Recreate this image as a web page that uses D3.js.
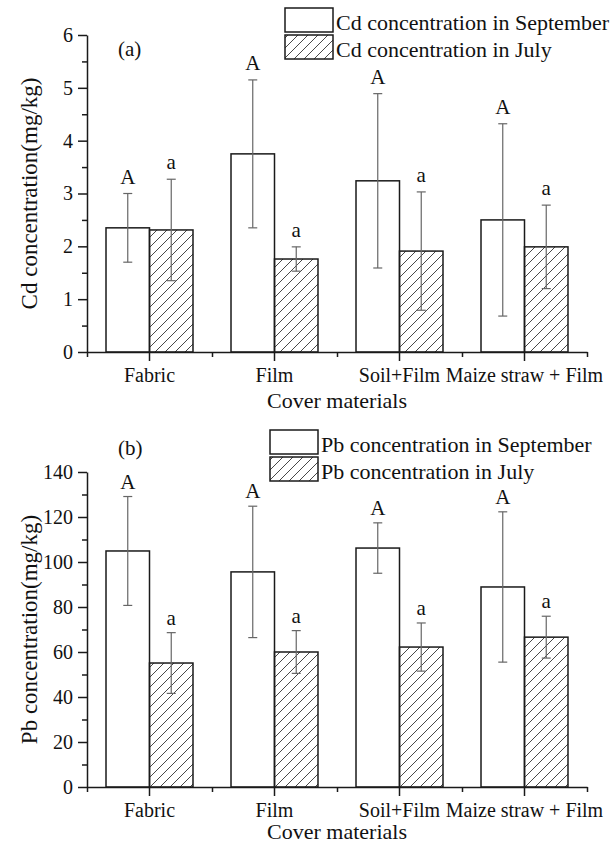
<!DOCTYPE html>
<html>
<head>
<meta charset="utf-8">
<script src="https://cdn.jsdelivr.net/npm/d3@7"></script>
<style>
  body { margin: 0; background: #fff; }
  svg text { font-family: "Liberation Serif", "Times New Roman", serif; fill: #111; }
</style>
</head>
<body>
<div id="chart"></div>
<script>
// data
const categories = ['Fabric', 'Film', 'Soil+Film', 'Maize straw + Film'];
const seriesNames = ['September', 'July'];

const cdSept = [2.35, 3.75, 3.24, 2.50];
const cdSeptErr = [0.65, 1.40, 1.65, 1.82];
const cdJuly = [2.31, 1.76, 1.91, 1.99];
const cdJulyErr = [0.96, 0.23, 1.12, 0.79];

const pbSept = [104.9, 95.6, 106.2, 88.9];
const pbSeptErr = [24.2, 29.2, 11.2, 33.4];
const pbJuly = [55.1, 60.0, 62.2, 66.6];
const pbJulyErr = [13.5, 9.5, 10.7, 9.3];

const septLetters = ['A', 'A', 'A', 'A'];
const julyLetters = ['a', 'a', 'a', 'a'];

const cdTicks = [0, 1, 2, 3, 4, 5, 6];
const cdMinor = [0.5, 1.5, 2.5, 3.5, 4.5, 5.5];
const pbTicks = [0, 20, 40, 60, 80, 100, 120, 140];
const pbMinor = [10, 30, 50, 70, 90, 110, 130];

const W = 616, H = 845;
const svg = d3.select('#chart').append('svg')
  .attr('width', W).attr('height', H);

// hatch pattern for July bars
svg.append('defs').append('pattern')
  .attr('id', 'hatch')
  .attr('patternUnits', 'userSpaceOnUse')
  .attr('width', 10).attr('height', 10)
  .append('path')
  .attr('d', 'M-1,1 l2,-2 M0,10 l10,-10 M9,11 l2,-2')
  .attr('stroke', '#333')
  .attr('stroke-width', 0.9);

const x0 = d3.scaleBand().domain(categories).range([87, 587]);
const x1 = d3.scaleBand().domain(seriesNames)
  .range([0, x0.bandwidth()]).paddingOuter(0.437);
const xMinor = d3.scaleLinear().domain([0.5, 4.5]).range([87, 587]);

function drawPanel(p) {
  const y = d3.scaleLinear().domain(p.domain).range([p.bottom, p.top]);
  const g = svg.append('g');

  const rows = categories.map((c, i) => ({
    cat: c,
    vals: [
      { s: 'September', v: p.sept[i], e: p.septErr[i], l: septLetters[i] },
      { s: 'July', v: p.july[i], e: p.julyErr[i], l: julyLetters[i] },
    ],
  }));

  const grp = g.selectAll('g.grp').data(rows).join('g')
    .attr('transform', (d) => `translate(${x0(d.cat)},0)`);

  grp.selectAll('rect').data((d) => d.vals).join('rect')
    .attr('x', (d) => x1(d.s))
    .attr('width', x1.bandwidth())
    .attr('y', (d) => y(d.v))
    .attr('height', (d) => y(0) - y(d.v))
    .attr('fill', (d) => (d.s === 'July' ? 'url(#hatch)' : '#fff'))
    .attr('stroke', '#1a1a1a')
    .attr('stroke-width', 1.5);

  // error bars
  const eb = grp.selectAll('g.eb').data((d) => d.vals).join('g')
    .attr('class', 'eb')
    .attr('transform', (d) => `translate(${x1(d.s) + x1.bandwidth() / 2},0)`);
  eb.append('line')
    .attr('y1', (d) => y(d.v + d.e)).attr('y2', (d) => y(d.v - d.e))
    .attr('stroke', '#666').attr('stroke-width', 1.2);
  eb.append('line')
    .attr('x1', -4.5).attr('x2', 4.5)
    .attr('y1', (d) => y(d.v + d.e)).attr('y2', (d) => y(d.v + d.e))
    .attr('stroke', '#666').attr('stroke-width', 1.2);
  eb.append('line')
    .attr('x1', -4.5).attr('x2', 4.5)
    .attr('y1', (d) => y(d.v - d.e)).attr('y2', (d) => y(d.v - d.e))
    .attr('stroke', '#666').attr('stroke-width', 1.2);
  eb.append('text')
    .attr('y', (d) => y(d.v + d.e) - p.letterGap)
    .attr('text-anchor', 'middle')
    .attr('font-size', 21)
    .text((d) => d.l);

  // y axis
  const yAx = g.append('g').attr('transform', 'translate(87,0)')
    .call(d3.axisLeft(y).tickValues(p.ticks).tickFormat(d3.format('d'))
      .tickSize(9).tickSizeOuter(0).tickPadding(5));
  g.append('g').attr('transform', 'translate(87,0)')
    .call(d3.axisLeft(y).tickValues(p.minor).tickSize(5).tickSizeOuter(0).tickFormat(''))
    .select('.domain').remove();
  yAx.selectAll('text').attr('font-size', 20);

  // x axis
  const xAx = g.append('g').attr('transform', `translate(0,${p.bottom})`)
    .call(d3.axisBottom(x0).tickSize(9).tickSizeOuter(0).tickPadding(7));
  xAx.selectAll('text').attr('font-size', 20);
  g.append('g').attr('transform', `translate(0,${p.bottom})`)
    .call(d3.axisBottom(xMinor).tickValues([0.5, 1.5, 2.5, 3.5, 4.5]).tickSize(5).tickFormat(''))
    .select('.domain').remove();

  g.selectAll('.domain, .tick line').attr('stroke', '#1a1a1a').attr('stroke-width', 1.5);

  // titles
  g.append('text')
    .attr('x', 337).attr('y', p.bottom + p.titleGap)
    .attr('text-anchor', 'middle').attr('font-size', 22)
    .text('Cover materials');
  g.append('text')
    .attr('transform', `translate(37,${(p.top + p.bottom) / 2}) rotate(-90)`)
    .attr('text-anchor', 'middle').attr('font-size', 23)
    .text(p.yTitle);
  g.append('text')
    .attr('x', 118).attr('y', p.panelY)
    .attr('font-size', 21)
    .text(p.panel);

  // legend
  const lg = g.append('g').attr('transform', `translate(${p.legX},${p.legY})`);
  const items = [
    { fill: '#fff', label: p.legSept },
    { fill: 'url(#hatch)', label: p.legJuly },
  ];
  items.forEach((it, i) => {
    lg.append('rect')
      .attr('x', 0).attr('y', i * 27)
      .attr('width', 48).attr('height', 24)
      .attr('fill', it.fill)
      .attr('stroke', '#1a1a1a').attr('stroke-width', 1.5);
    lg.append('text')
      .attr('x', 51).attr('y', i * 27 + 22)
      .attr('font-size', 22)
      .text(it.label);
  });
}

drawPanel({
  domain: [0, 6], top: 35, bottom: 352,
  sept: cdSept, septErr: cdSeptErr, july: cdJuly, julyErr: cdJulyErr,
  ticks: cdTicks, minor: cdMinor,
  yTitle: 'Cd concentration(mg/kg)', panel: '(a)', panelY: 56,
  legX: 285, legY: 8,
  legSept: 'Cd concentration in September', legJuly: 'Cd concentration in July',
  letterGap: 10, titleGap: 56,
});

drawPanel({
  domain: [0, 140], top: 472, bottom: 787,
  sept: pbSept, septErr: pbSeptErr, july: pbJuly, julyErr: pbJulyErr,
  ticks: pbTicks, minor: pbMinor,
  yTitle: 'Pb concentration(mg/kg)', panel: '(b)', panelY: 455,
  legX: 270, legY: 430,
  legSept: 'Pb concentration in September', legJuly: 'Pb concentration in July',
  letterGap: 8, titleGap: 52,
});
</script>
</body>
</html>
